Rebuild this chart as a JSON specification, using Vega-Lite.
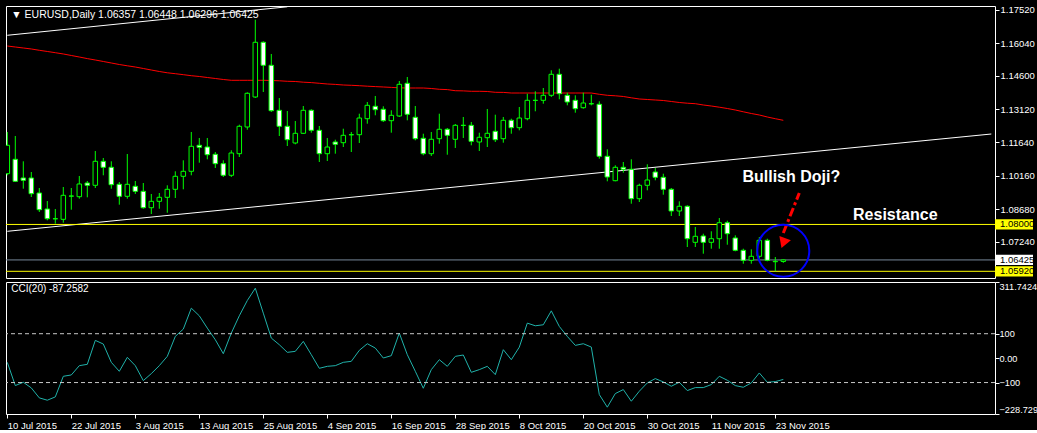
{
  "$schema": "https://vega.github.io/schema/vega-lite/v6.json",
  "background": "black",
  "padding": {"left": 4, "top": 4, "right": 0, "bottom": 0},
  "autosize": {"type": "pad"},
  "bounds": "flush",
  "spacing": 4,
  "config": {
    "view": {"stroke": "white", "strokeWidth": 1},
    "axis": {"labelColor": "white", "tickColor": "white", "labelFont": "Liberation Sans", "labelFontSize": 9.5, "domain": false, "grid": false, "tickSize": 4, "labelPadding": 1, "labelOverlap": false}
  },
  "resolve": {"scale": {"x": "shared"}},
  "datasets": {
    "bars": [
      {"d":"2015-07-10","o":1.10253,"h":1.12104,"l":1.10182,"c":1.11514,"ma":1.15922,"cci":-17.2},
      {"d":"2015-07-13","o":1.10892,"h":1.11926,"l":1.09884,"c":1.09915,"ma":1.15877,"cci":-112.4},
      {"d":"2015-07-14","o":1.10062,"h":1.10803,"l":1.09587,"c":1.09960,"ma":1.15833,"cci":-98.8},
      {"d":"2015-07-15","o":1.10062,"h":1.10328,"l":1.09218,"c":1.09365,"ma":1.15789,"cci":-121.9},
      {"d":"2015-07-16","o":1.09396,"h":1.09618,"l":1.08553,"c":1.08655,"ma":1.15731,"cci":-162.7},
      {"d":"2015-07-17","o":1.08686,"h":1.09041,"l":1.08184,"c":1.08255,"ma":1.15678,"cci":-172.3},
      {"d":"2015-07-20","o":1.08255,"h":1.08686,"l":1.08033,"c":1.08250,"ma":1.15624,"cci":-158.7},
      {"d":"2015-07-21","o":1.08228,"h":1.09662,"l":1.08078,"c":1.09294,"ma":1.15567,"cci":-74.3},
      {"d":"2015-07-22","o":1.09263,"h":1.09618,"l":1.08655,"c":1.09258,"ma":1.15500,"cci":-68.9},
      {"d":"2015-07-23","o":1.09232,"h":1.10151,"l":1.09143,"c":1.09796,"ma":1.15433,"cci":-30.8},
      {"d":"2015-07-24","o":1.09840,"h":1.09929,"l":1.09205,"c":1.09738,"ma":1.15362,"cci":-25.3},
      {"d":"2015-07-27","o":1.09738,"h":1.11260,"l":1.09618,"c":1.10803,"ma":1.15300,"cci":72.7},
      {"d":"2015-07-28","o":1.10803,"h":1.10950,"l":1.10182,"c":1.10537,"ma":1.15234,"cci":57.7},
      {"d":"2015-07-29","o":1.10537,"h":1.10803,"l":1.09587,"c":1.09764,"ma":1.15167,"cci":-17.2},
      {"d":"2015-07-30","o":1.09782,"h":1.09884,"l":1.08877,"c":1.09249,"ma":1.15100,"cci":-53.9},
      {"d":"2015-07-31","o":1.09249,"h":1.11127,"l":1.09143,"c":1.09782,"ma":1.15043,"cci":3.3},
      {"d":"2015-08-03","o":1.09693,"h":1.09929,"l":1.09352,"c":1.09471,"ma":1.14989,"cci":-30.8},
      {"d":"2015-08-04","o":1.09471,"h":1.09840,"l":1.08699,"c":1.08743,"ma":1.14923,"cci":-92.0},
      {"d":"2015-08-05","o":1.08743,"h":1.09352,"l":1.08464,"c":1.09027,"ma":1.14856,"cci":-63.4},
      {"d":"2015-08-06","o":1.09027,"h":1.09396,"l":1.08699,"c":1.09205,"ma":1.14790,"cci":-30.8},
      {"d":"2015-08-07","o":1.09205,"h":1.09738,"l":1.08521,"c":1.09560,"ma":1.14732,"cci":7.3},
      {"d":"2015-08-10","o":1.09560,"h":1.10359,"l":1.09174,"c":1.10137,"ma":1.14692,"cci":89.0},
      {"d":"2015-08-11","o":1.10137,"h":1.10848,"l":1.09560,"c":1.10359,"ma":1.14648,"cci":118.9},
      {"d":"2015-08-12","o":1.10359,"h":1.12104,"l":1.10182,"c":1.11469,"ma":1.14603,"cci":204.6},
      {"d":"2015-08-13","o":1.11514,"h":1.11838,"l":1.10741,"c":1.11425,"ma":1.14568,"cci":173.3},
      {"d":"2015-08-14","o":1.11438,"h":1.11838,"l":1.10892,"c":1.11096,"ma":1.14523,"cci":123.0},
      {"d":"2015-08-17","o":1.11114,"h":1.11216,"l":1.10506,"c":1.10697,"ma":1.14479,"cci":75.4},
      {"d":"2015-08-18","o":1.10697,"h":1.10848,"l":1.10106,"c":1.10182,"ma":1.14435,"cci":18.2},
      {"d":"2015-08-19","o":1.10182,"h":1.11292,"l":1.10106,"c":1.11172,"ma":1.14399,"cci":102.6},
      {"d":"2015-08-20","o":1.11141,"h":1.12428,"l":1.10994,"c":1.12357,"ma":1.14399,"cci":173.3},
      {"d":"2015-08-21","o":1.12326,"h":1.13866,"l":1.12206,"c":1.13822,"ma":1.14399,"cci":235.9},
      {"d":"2015-08-24","o":1.13658,"h":1.17089,"l":1.13613,"c":1.16086,"ma":1.14399,"cci":286.3},
      {"d":"2015-08-25","o":1.16086,"h":1.16130,"l":1.13880,"c":1.15065,"ma":1.14399,"cci":184.2},
      {"d":"2015-08-26","o":1.15065,"h":1.15567,"l":1.12992,"c":1.13050,"ma":1.14390,"cci":82.2},
      {"d":"2015-08-27","o":1.13067,"h":1.13613,"l":1.11926,"c":1.12357,"ma":1.14377,"cci":55.0},
      {"d":"2015-08-28","o":1.12357,"h":1.13036,"l":1.11482,"c":1.11762,"ma":1.14355,"cci":23.7},
      {"d":"2015-08-31","o":1.11616,"h":1.12592,"l":1.11558,"c":1.12046,"ma":1.14346,"cci":27.8},
      {"d":"2015-09-01","o":1.12046,"h":1.13258,"l":1.12015,"c":1.13067,"ma":1.14315,"cci":68.6},
      {"d":"2015-09-02","o":1.13067,"h":1.13112,"l":1.12073,"c":1.12179,"ma":1.14297,"cci":14.1},
      {"d":"2015-09-03","o":1.12179,"h":1.12370,"l":1.10772,"c":1.11141,"ma":1.14266,"cci":-41.6},
      {"d":"2015-09-04","o":1.11141,"h":1.11838,"l":1.10817,"c":1.11438,"ma":1.14235,"cci":-33.5},
      {"d":"2015-09-07","o":1.11660,"h":1.11762,"l":1.11141,"c":1.11558,"ma":1.14217,"cci":-30.8},
      {"d":"2015-09-08","o":1.11629,"h":1.12250,"l":1.11438,"c":1.11957,"ma":1.14190,"cci":-17.2},
      {"d":"2015-09-09","o":1.11984,"h":1.12104,"l":1.11216,"c":1.11980,"ma":1.14177,"cci":-13.1},
      {"d":"2015-09-10","o":1.11984,"h":1.12916,"l":1.11616,"c":1.12725,"ma":1.14159,"cci":31.8},
      {"d":"2015-09-11","o":1.12694,"h":1.13436,"l":1.12472,"c":1.13289,"ma":1.14137,"cci":59.0},
      {"d":"2015-09-14","o":1.13245,"h":1.13702,"l":1.12845,"c":1.13094,"ma":1.14119,"cci":41.3},
      {"d":"2015-09-15","o":1.13112,"h":1.13245,"l":1.12548,"c":1.12606,"ma":1.14102,"cci":0.5},
      {"d":"2015-09-16","o":1.12606,"h":1.13067,"l":1.12073,"c":1.12845,"ma":1.14084,"cci":10.1},
      {"d":"2015-09-17","o":1.12814,"h":1.14368,"l":1.12770,"c":1.14221,"ma":1.14066,"cci":102.6},
      {"d":"2015-09-18","o":1.14266,"h":1.14546,"l":1.12623,"c":1.12890,"ma":1.14057,"cci":14.1},
      {"d":"2015-09-21","o":1.12757,"h":1.13258,"l":1.11735,"c":1.11807,"ma":1.14057,"cci":-53.9},
      {"d":"2015-09-22","o":1.11824,"h":1.12028,"l":1.11070,"c":1.11141,"ma":1.14057,"cci":-123.3},
      {"d":"2015-09-23","o":1.11141,"h":1.12104,"l":1.11039,"c":1.11780,"ma":1.14035,"cci":-47.1},
      {"d":"2015-09-24","o":1.11807,"h":1.12916,"l":1.11585,"c":1.12224,"ma":1.14000,"cci":-6.3},
      {"d":"2015-09-25","o":1.12224,"h":1.12281,"l":1.11096,"c":1.11957,"ma":1.13986,"cci":-33.5},
      {"d":"2015-09-28","o":1.11780,"h":1.12459,"l":1.11394,"c":1.12401,"ma":1.13937,"cci":7.3},
      {"d":"2015-09-29","o":1.12401,"h":1.12770,"l":1.11838,"c":1.12396,"ma":1.13929,"cci":12.8},
      {"d":"2015-09-30","o":1.12401,"h":1.12548,"l":1.11514,"c":1.11691,"ma":1.13911,"cci":-58.0},
      {"d":"2015-10-01","o":1.11660,"h":1.12073,"l":1.11260,"c":1.11869,"ma":1.13911,"cci":-47.1},
      {"d":"2015-10-02","o":1.11851,"h":1.13125,"l":1.11438,"c":1.12046,"ma":1.13902,"cci":-33.5},
      {"d":"2015-10-05","o":1.12135,"h":1.12872,"l":1.11660,"c":1.11762,"ma":1.13866,"cci":-67.5},
      {"d":"2015-10-06","o":1.11807,"h":1.12770,"l":1.11629,"c":1.12623,"ma":1.13862,"cci":34.6},
      {"d":"2015-10-07","o":1.12623,"h":1.12694,"l":1.12028,"c":1.12295,"ma":1.13835,"cci":-6.3},
      {"d":"2015-10-08","o":1.12295,"h":1.13214,"l":1.12179,"c":1.12725,"ma":1.13835,"cci":45.0},
      {"d":"2015-10-09","o":1.12694,"h":1.13804,"l":1.12623,"c":1.13511,"ma":1.13835,"cci":143.4},
      {"d":"2015-10-12","o":1.13511,"h":1.13911,"l":1.13023,"c":1.13506,"ma":1.13835,"cci":132.5},
      {"d":"2015-10-13","o":1.13511,"h":1.14057,"l":1.13360,"c":1.13733,"ma":1.13835,"cci":136.6},
      {"d":"2015-10-14","o":1.13733,"h":1.14843,"l":1.13658,"c":1.14665,"ma":1.13835,"cci":193.7},
      {"d":"2015-10-15","o":1.14665,"h":1.14914,"l":1.13556,"c":1.13804,"ma":1.13835,"cci":129.8},
      {"d":"2015-10-16","o":1.13733,"h":1.13849,"l":1.13289,"c":1.13436,"ma":1.13835,"cci":89.0},
      {"d":"2015-10-19","o":1.13511,"h":1.13733,"l":1.12961,"c":1.13138,"ma":1.13835,"cci":52.2},
      {"d":"2015-10-20","o":1.13183,"h":1.13849,"l":1.13138,"c":1.13391,"ma":1.13835,"cci":59.0},
      {"d":"2015-10-21","o":1.13360,"h":1.13760,"l":1.13289,"c":1.13355,"ma":1.13835,"cci":45.4},
      {"d":"2015-10-22","o":1.13334,"h":1.13467,"l":1.10919,"c":1.11025,"ma":1.13778,"cci":-149.1},
      {"d":"2015-10-23","o":1.11025,"h":1.11336,"l":1.09915,"c":1.10106,"ma":1.13733,"cci":-200.8},
      {"d":"2015-10-26","o":1.09942,"h":1.10626,"l":1.09915,"c":1.10537,"ma":1.13711,"cci":-145.1},
      {"d":"2015-10-27","o":1.10537,"h":1.10772,"l":1.10297,"c":1.10448,"ma":1.13680,"cci":-128.7},
      {"d":"2015-10-28","o":1.10448,"h":1.10892,"l":1.08921,"c":1.09143,"ma":1.13622,"cci":-176.4},
      {"d":"2015-10-29","o":1.09143,"h":1.09809,"l":1.08996,"c":1.09738,"ma":1.13569,"cci":-135.5},
      {"d":"2015-10-30","o":1.09738,"h":1.10670,"l":1.09516,"c":1.09973,"ma":1.13547,"cci":-101.5},
      {"d":"2015-11-02","o":1.10328,"h":1.10506,"l":1.09960,"c":1.10093,"ma":1.13525,"cci":-83.8},
      {"d":"2015-11-03","o":1.10093,"h":1.10253,"l":1.09320,"c":1.09560,"ma":1.13502,"cci":-97.4},
      {"d":"2015-11-04","o":1.09560,"h":1.09618,"l":1.08375,"c":1.08597,"ma":1.13458,"cci":-115.1},
      {"d":"2015-11-05","o":1.08597,"h":1.09027,"l":1.08375,"c":1.08806,"ma":1.13414,"cci":-98.8},
      {"d":"2015-11-06","o":1.08806,"h":1.08850,"l":1.06999,"c":1.07367,"ma":1.13382,"cci":-132.8},
      {"d":"2015-11-09","o":1.07207,"h":1.07887,"l":1.06999,"c":1.07474,"ma":1.13360,"cci":-120.6},
      {"d":"2015-11-10","o":1.07487,"h":1.07589,"l":1.06701,"c":1.07207,"ma":1.13303,"cci":-120.6},
      {"d":"2015-11-11","o":1.07207,"h":1.07696,"l":1.06923,"c":1.07367,"ma":1.13258,"cci":-108.3},
      {"d":"2015-11-12","o":1.07367,"h":1.08286,"l":1.06923,"c":1.08078,"ma":1.13205,"cci":-74.3},
      {"d":"2015-11-13","o":1.08078,"h":1.08166,"l":1.07101,"c":1.07589,"ma":1.13147,"cci":-90.6},
      {"d":"2015-11-16","o":1.07398,"h":1.07518,"l":1.06808,"c":1.06852,"ma":1.13081,"cci":-112.4},
      {"d":"2015-11-17","o":1.06852,"h":1.06923,"l":1.06257,"c":1.06408,"ma":1.13001,"cci":-119.2},
      {"d":"2015-11-18","o":1.06408,"h":1.06897,"l":1.06257,"c":1.06586,"ma":1.12925,"cci":-101.5},
      {"d":"2015-11-19","o":1.06586,"h":1.07443,"l":1.06479,"c":1.07296,"ma":1.12859,"cci":-60.7},
      {"d":"2015-11-20","o":1.07296,"h":1.07367,"l":1.06364,"c":1.06408,"ma":1.12770,"cci":-98.8},
      {"d":"2015-11-23","o":1.06346,"h":1.06555,"l":1.05920,"c":1.06364,"ma":1.12694,"cci":-96.1},
      {"d":"2015-11-24","o":1.06357,"h":1.06448,"l":1.06296,"c":1.06425,"ma":1.12623,"cci":-87.2582}
    ],
    "trend": [
      {"id":"upper","d":"2015-07-10","p":1.16397},
      {"id":"upper","d":"2015-08-28","p":1.17662},
      {"id":"lower","d":"2015-07-10","p":1.07696},
      {"id":"lower","d":"2015-12-30","p":1.12015}
    ]
  },
  "vconcat": [
    {
      "width": 989,
      "height": 272,
      "layer": [
        {
          "data": {"name": "trend"},
          "mark": {"type": "line", "color": "white", "strokeWidth": 1, "clip": true},
          "encoding": {
            "x": {"field": "d", "type": "ordinal", "axis": null,
              "scale": {"type": "point", "padding": 0.3125, "align": 0.26,
                "domain": ["2015-07-10","2015-07-13","2015-07-14","2015-07-15","2015-07-16","2015-07-17","2015-07-20","2015-07-21","2015-07-22","2015-07-23","2015-07-24","2015-07-27","2015-07-28","2015-07-29","2015-07-30","2015-07-31","2015-08-03","2015-08-04","2015-08-05","2015-08-06","2015-08-07","2015-08-10","2015-08-11","2015-08-12","2015-08-13","2015-08-14","2015-08-17","2015-08-18","2015-08-19","2015-08-20","2015-08-21","2015-08-24","2015-08-25","2015-08-26","2015-08-27","2015-08-28","2015-08-31","2015-09-01","2015-09-02","2015-09-03","2015-09-04","2015-09-07","2015-09-08","2015-09-09","2015-09-10","2015-09-11","2015-09-14","2015-09-15","2015-09-16","2015-09-17","2015-09-18","2015-09-21","2015-09-22","2015-09-23","2015-09-24","2015-09-25","2015-09-28","2015-09-29","2015-09-30","2015-10-01","2015-10-02","2015-10-05","2015-10-06","2015-10-07","2015-10-08","2015-10-09","2015-10-12","2015-10-13","2015-10-14","2015-10-15","2015-10-16","2015-10-19","2015-10-20","2015-10-21","2015-10-22","2015-10-23","2015-10-26","2015-10-27","2015-10-28","2015-10-29","2015-10-30","2015-11-02","2015-11-03","2015-11-04","2015-11-05","2015-11-06","2015-11-09","2015-11-10","2015-11-11","2015-11-12","2015-11-13","2015-11-16","2015-11-17","2015-11-18","2015-11-19","2015-11-20","2015-11-23","2015-11-24","2015-11-25","2015-11-26","2015-11-27","2015-11-30","2015-12-01","2015-12-02","2015-12-03","2015-12-04","2015-12-07","2015-12-08","2015-12-09","2015-12-10","2015-12-11","2015-12-14","2015-12-15","2015-12-16","2015-12-17","2015-12-18","2015-12-21","2015-12-22","2015-12-23","2015-12-24","2015-12-25","2015-12-28","2015-12-29","2015-12-30"]}},
            "y": {"field": "p", "type": "quantitative",
              "scale": {"domain": [1.05623, 1.17697], "nice": false, "zero": false},
              "axis": {"orient": "right", "title": null, "values": [1.1752, 1.1604, 1.146, 1.1312, 1.1164, 1.1016, 1.0868, 1.0724], "tickCount": 50, "format": ".5f", "labelFlush": false, "labelOverlap": false, "labelBound": false}},
            "detail": {"field": "id"}
          }
        },
        {
          "data": {"values": [{"p": 1.08}, {"p": 1.0592}]},
          "mark": {"type": "rule", "color": "#FFFF00", "strokeWidth": 1},
          "encoding": {"y": {"field": "p", "type": "quantitative"}}
        },
        {
          "data": {"values": [{"p": 1.06425}]},
          "mark": {"type": "rule", "color": "#778899", "strokeWidth": 1},
          "encoding": {"y": {"field": "p", "type": "quantitative"}}
        },
        {
          "data": {"name": "bars"},
          "mark": {"type": "line", "color": "#FF0000", "strokeWidth": 1},
          "encoding": {
            "x": {"field": "d", "type": "ordinal", "axis": null},
            "y": {"field": "ma", "type": "quantitative"}
          }
        },
        {
          "data": {"name": "bars"},
          "mark": {"type": "rule", "color": "#00FF00", "strokeWidth": 1, "clip": true},
          "encoding": {
            "x": {"field": "d", "type": "ordinal", "axis": null},
            "y": {"field": "l", "type": "quantitative"},
            "y2": {"field": "h"}
          }
        },
        {
          "data": {"name": "bars"},
          "mark": {"type": "bar", "size": 4.5, "stroke": "#00FF00", "strokeWidth": 1, "clip": true},
          "encoding": {
            "x": {"field": "d", "type": "ordinal", "axis": null},
            "y": {"field": "o", "type": "quantitative"},
            "y2": {"field": "c"},
            "fill": {"condition": {"test": "datum.c < datum.o", "value": "#FFFFFF"}, "value": "#000000"}
          }
        },
        {
          "data": {"values": [{"p": 1.08}, {"p": 1.0592}]},
          "mark": {"type": "point", "shape": "M0,-0.27L2,-0.27L2,0.27L0,0.27Z", "size": 1444, "filled": true, "fill": "#FFFF00", "strokeWidth": 0, "opacity": 1},
          "encoding": {"x": {"value": "width"}, "y": {"field": "p", "type": "quantitative"}}
        },
        {
          "data": {"values": [{"p": 1.06425}]},
          "mark": {"type": "point", "shape": "M0,-0.27L2,-0.27L2,0.27L0,0.27Z", "size": 1444, "filled": true, "fill": "#FFFFFF", "strokeWidth": 0, "opacity": 1},
          "encoding": {"x": {"value": "width"}, "y": {"field": "p", "type": "quantitative"}}
        },
        {
          "data": {"values": [{"p": 1.08, "t": "1.08000"}, {"p": 1.06425, "t": "1.06425"}, {"p": 1.0592, "t": "1.05920"}]},
          "mark": {"type": "text", "align": "left", "baseline": "middle", "dx": 5, "color": "#000000", "font": "Liberation Sans", "fontSize": 9.5},
          "encoding": {"x": {"value": "width"}, "y": {"field": "p", "type": "quantitative"}, "text": {"field": "t"}}
        },
        {
          "data": {"values": [{"d": "2015-11-26", "p": 1.09396}, {"d": "2015-11-24", "p": 1.0762}]},
          "mark": {"type": "line", "color": "#FF0000", "strokeWidth": 3, "strokeDash": [9, 3, 3, 3]},
          "encoding": {"x": {"field": "d", "type": "ordinal", "axis": null}, "y": {"field": "p", "type": "quantitative"}}
        },
        {
          "data": {"values": [{"d": "2015-11-24", "p": 1.07176}]},
          "mark": {"type": "point", "shape": "triangle-down", "size": 150, "filled": true, "color": "#FF0000", "angle": 20, "opacity": 1},
          "encoding": {"x": {"field": "d", "type": "ordinal", "axis": null}, "y": {"field": "p", "type": "quantitative"}}
        },
        {
          "data": {"values": [{"d": "2015-11-24", "p": 1.06834}]},
          "mark": {"type": "point", "shape": "circle", "size": 2704, "filled": false, "stroke": "#0000FF", "strokeWidth": 2, "opacity": 1},
          "encoding": {"x": {"field": "d", "type": "ordinal", "axis": null}, "y": {"field": "p", "type": "quantitative"}}
        },
        {
          "data": {"values": [{"d": "2015-11-25", "p": 1.10106, "t": "Bullish Doji?"}, {"d": "2015-12-14", "p": 1.08406, "t": "Resistance"}]},
          "mark": {"type": "text", "align": "center", "baseline": "middle", "color": "#FFFFFF", "font": "Liberation Sans", "fontWeight": "bold", "fontSize": 16},
          "encoding": {"x": {"field": "d", "type": "ordinal", "axis": null}, "y": {"field": "p", "type": "quantitative"}, "text": {"field": "t"}}
        },
        {
          "data": {"values": [{"d": "2015-07-10", "p": 1.1730, "t": "▼ EURUSD,Daily  1.06357 1.06448 1.06296 1.06425"}]},
          "mark": {"type": "text", "align": "left", "baseline": "middle", "dx": 4, "color": "#FFFFFF", "font": "Liberation Sans", "fontSize": 10.5},
          "encoding": {"x": {"field": "d", "type": "ordinal", "axis": null}, "y": {"field": "p", "type": "quantitative"}, "text": {"field": "t"}}
        }
      ]
    },
    {
      "width": 989,
      "height": 132,
      "layer": [
        {
          "data": {"name": "bars"},
          "mark": {"type": "line", "color": "#20B2AA", "strokeWidth": 1},
          "encoding": {
            "x": {"field": "d", "type": "ordinal",
              "axis": {"orient": "bottom", "title": null, "values": ["2015-07-10","2015-07-22","2015-08-03","2015-08-13","2015-08-25","2015-09-04","2015-09-16","2015-09-28","2015-10-08","2015-10-20","2015-10-30","2015-11-11","2015-11-23"],
                "labelExpr": "utcFormat(toDate(datum.value), '%-d %b %Y')", "labelAngle": 0, "labelAlign": "left", "labelBaseline": "top", "labelPadding": 2, "labelOverlap": false, "labelBound": false, "labelFlush": false}},
            "y": {"field": "cci", "type": "quantitative",
              "scale": {"domain": [-228.7292, 311.7424], "nice": false, "zero": false},
              "axis": {"orient": "right", "title": null, "values": [311.7424, 100, 0, -100, -228.7292], "tickCount": 50, "labelFlush": true, "labelOverlap": false, "labelBound": false, "labelPadding": 0, "labelFontSize": 9.2,
                "labelExpr": "datum.value == 0 ? '0.00' : (datum.value == 100 || datum.value == -100) ? format(datum.value, 'd') : format(datum.value, '.4f')"}}
          }
        },
        {
          "data": {"values": [{"v": 100}, {"v": -100}]},
          "mark": {"type": "rule", "color": "#C8C8C8", "strokeWidth": 1, "strokeDash": [4, 3]},
          "encoding": {"y": {"field": "v", "type": "quantitative"}}
        },
        {
          "data": {"values": [{"d": "2015-07-10", "v": 282, "t": "CCI(20) -87.2582"}]},
          "mark": {"type": "text", "align": "left", "baseline": "middle", "dx": 4, "color": "#FFFFFF", "font": "Liberation Sans", "fontSize": 10},
          "encoding": {"x": {"field": "d", "type": "ordinal"}, "y": {"field": "v", "type": "quantitative"}, "text": {"field": "t"}}
        }
      ]
    }
  ]
}
